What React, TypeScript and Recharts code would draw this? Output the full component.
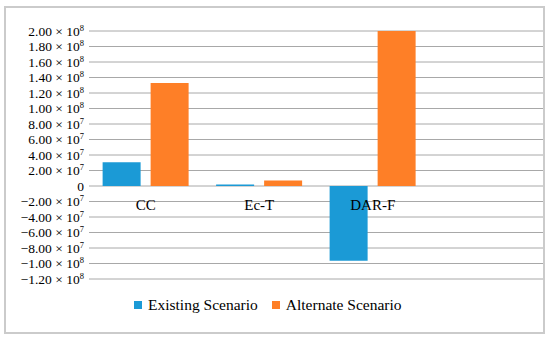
import { BarChart, Bar, XAxis, YAxis, CartesianGrid } from 'recharts';

const categories = ['CC', 'Ec-T', 'DAR-F', ''];
const existingScenario = [3.05e7, 2.0e6, -9.65e7, null];
const alternateScenario = [1.33e8, 7.0e6, 2.0e8, null];
const yTicks = [
  -1.2e8, -1.0e8, -8e7, -6e7, -4e7, -2e7, 0, 2e7, 4e7, 6e7, 8e7, 1.0e8, 1.2e8, 1.4e8, 1.6e8, 1.8e8, 2.0e8
];

const Y_MIN = -1.2e8;
const Y_MAX = 2.0e8;
const WIDTH = 550;
const HEIGHT = 339;
const MARGIN = { top: 31, right: 7, bottom: 30, left: 0 };
const X_AXIS_H = 30;
const PLOT_H = HEIGHT - MARGIN.top - MARGIN.bottom - X_AXIS_H;

const BLUE = '#1b9ad6';
const ORANGE = '#fe7f27';
const FONT = '"Liberation Serif", "Times New Roman", serif';

const data = categories.map((name, i) => ({
  name,
  existing: existingScenario[i],
  alternate: alternateScenario[i]
}));

const splitSci = (v: number) => {
  if (v === 0) return null;
  const exp = Math.abs(v) >= 1e8 ? 8 : 7;
  const m = v / Math.pow(10, exp);
  const str = (m < 0 ? '\u2212' : '') + Math.abs(m).toFixed(2);
  return { str, exp };
};

const YTick = (props: any) => {
  const { x, y, payload } = props;
  const s = splitSci(payload.value);
  if (!s) {
    return (
      <text x={x} y={y} dy={4.5} textAnchor="end" fontFamily={FONT} fontSize={13.5} fill="#000">
        0
      </text>
    );
  }
  return (
    <text x={x} y={y} dy={4.5} textAnchor="end" fontFamily={FONT} fontSize={13.5} fill="#000">
      {s.str} × 10
      <tspan fontSize={8.5} dy={-5}>{s.exp}</tspan>
    </text>
  );
};

const XTick = (props: any) => {
  const { x, y, payload } = props;
  // put the category names just under the zero line
  const zeroY = y - (PLOT_H * (0 - Y_MIN)) / (Y_MAX - Y_MIN);
  return (
    <text x={x} y={zeroY} dy={24} textAnchor="middle" fontFamily={FONT} fontSize={15} fill="#000">
      {payload.value}
    </text>
  );
};

const LegendItem = ({ color, label }: { color: string; label: string }) => (
  <span style={{ display: 'inline-flex', alignItems: 'center', marginRight: 14 }}>
    <span style={{ width: 8, height: 8, background: color, marginRight: 6, display: 'inline-block' }} />
    <span>{label}</span>
  </span>
);

export default function App() {
  return (
    <div style={{ position: 'absolute', left: 0, top: 0, width: WIDTH, height: HEIGHT, background: '#fff' }}>
      <div
        style={{
          position: 'absolute',
          left: 4,
          top: 6,
          width: 541,
          height: 328,
          boxSizing: 'border-box',
          border: '2px solid #cbcbcb'
        }}
      />
      <div style={{ position: 'absolute', left: 0, top: 0 }}>
        <BarChart width={WIDTH} height={HEIGHT} data={data} margin={MARGIN} barGap={10} barCategoryGap="12%">
          <CartesianGrid vertical={false} stroke="#a8a8a8" strokeWidth={1} />
          <XAxis
            dataKey="name"
            height={X_AXIS_H}
            axisLine={false}
            tickLine={false}
            tickSize={0}
            tickMargin={0}
            tick={<XTick />}
            interval={0}
          />
          <YAxis
            width={89}
            domain={[Y_MIN, Y_MAX]}
            ticks={yTicks}
            interval={0}
            axisLine={false}
            tickLine={false}
            tickSize={0}
            tickMargin={5}
            tick={<YTick />}
          />
          <Bar dataKey="existing" fill={BLUE} isAnimationActive={false} />
          <Bar dataKey="alternate" fill={ORANGE} isAnimationActive={false} />
        </BarChart>
      </div>
      <div
        style={{
          position: 'absolute',
          left: 134,
          top: 295,
          fontFamily: FONT,
          fontSize: 15.5,
          color: '#000',
          whiteSpace: 'nowrap'
        }}
      >
        <LegendItem color={BLUE} label="Existing Scenario" />
        <LegendItem color={ORANGE} label="Alternate Scenario" />
      </div>
    </div>
  );
}
